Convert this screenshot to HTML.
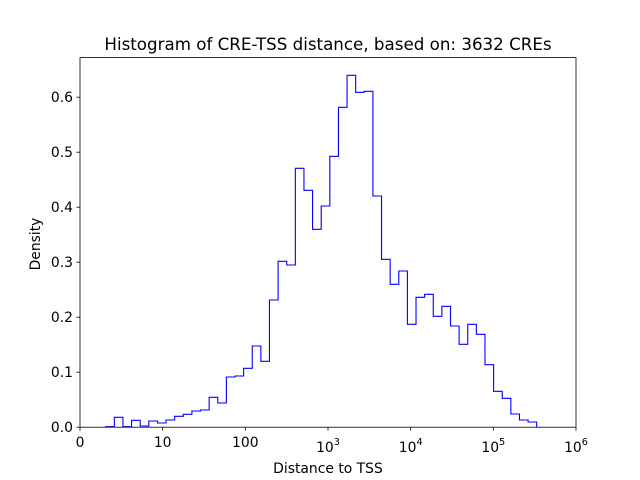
<!DOCTYPE html>
<html><head><style>body{margin:0;background:#fff}svg{display:block}text{font-family:"DejaVu Sans","Liberation Sans",sans-serif;fill:#000}</style></head>
<body>
<svg width="640" height="480" viewBox="0 0 640 480" xmlns="http://www.w3.org/2000/svg">
<rect width="640" height="480" fill="#fff"/>
<path fill="none" stroke="#0000ff" stroke-width="1.1" d="M105.7,427.2 V426.7 H114.32 V417.3 H122.94 V426.7 H131.56 V420.3 H140.18 V426 H148.8 V421 H157.42 V423 H166.04 V420 H174.66 V416.3 H183.28 V414.3 H191.9 V411 H200.52 V410 H209.14 V397.3 H217.76 V403 H226.38 V377 H235 V376 H243.62 V368.3 H252.24 V346 H260.86 V361.3 H269.48 V300 H278.1 V261.3 H286.72 V265 H295.34 V168.3 H303.96 V190.3 H312.58 V229.3 H321.2 V206 H329.82 V156.3 H338.44 V107.3 H347.06 V75.3 H355.68 V92.3 H364.3 V91.3 H372.92 V196 H381.54 V259.3 H390.16 V284.3 H398.78 V271 H407.4 V324.3 H416.02 V297.3 H424.64 V294.3 H433.26 V316.3 H441.88 V306.3 H450.5 V326 H459.12 V344.3 H467.74 V324.3 H476.36 V334.3 H484.98 V364.7 H493.6 V391.3 H502.22 V398.3 H510.84 V414 H519.46 V420 H528.08 V422 H536.7 V427.2"/>
<rect x="80" y="57.6" width="496" height="369.6" fill="none" stroke="#000" stroke-width="0.8"/>
<g stroke="#000" stroke-width="0.8">
<line x1="80" y1="427.2" x2="80" y2="430.7"/><line x1="162.7" y1="427.2" x2="162.7" y2="430.7"/><line x1="245.3" y1="427.2" x2="245.3" y2="430.7"/><line x1="328" y1="427.2" x2="328" y2="430.7"/><line x1="410.7" y1="427.2" x2="410.7" y2="430.7"/><line x1="493.3" y1="427.2" x2="493.3" y2="430.7"/><line x1="576" y1="427.2" x2="576" y2="430.7"/>
<line x1="76.5" y1="427.2" x2="80" y2="427.2"/><line x1="76.5" y1="372.2" x2="80" y2="372.2"/><line x1="76.5" y1="317.2" x2="80" y2="317.2"/><line x1="76.5" y1="262.2" x2="80" y2="262.2"/><line x1="76.5" y1="207.2" x2="80" y2="207.2"/><line x1="76.5" y1="152.2" x2="80" y2="152.2"/><line x1="76.5" y1="97.2" x2="80" y2="97.2"/>
</g>
<g font-size="13.9" text-anchor="middle">
<text x="80" y="447">0</text><text x="162.7" y="447">10</text><text x="245.3" y="447">100</text>
<text x="328" y="452">10<tspan font-size="9.7" dy="-7">3</tspan></text>
<text x="410.7" y="452">10<tspan font-size="9.7" dy="-7">4</tspan></text>
<text x="493.3" y="452">10<tspan font-size="9.7" dy="-7">5</tspan></text>
<text x="576" y="452">10<tspan font-size="9.7" dy="-7">6</tspan></text>
</g>
<g font-size="13.9" text-anchor="end">
<text x="73" y="432">0.0</text><text x="73" y="377">0.1</text><text x="73" y="322">0.2</text><text x="73" y="267">0.3</text><text x="73" y="212">0.4</text><text x="73" y="157">0.5</text><text x="73" y="102">0.6</text>
</g>
<text x="328" y="473" font-size="13.9" text-anchor="middle">Distance to TSS</text>
<text x="0" y="0" font-size="13.9" text-anchor="middle" transform="translate(40,244) rotate(-90)">Density</text>
<text x="328" y="50" font-size="16.7" text-anchor="middle">Histogram of CRE-TSS distance, based on: 3632 CREs</text>
</svg>
</body></html>
